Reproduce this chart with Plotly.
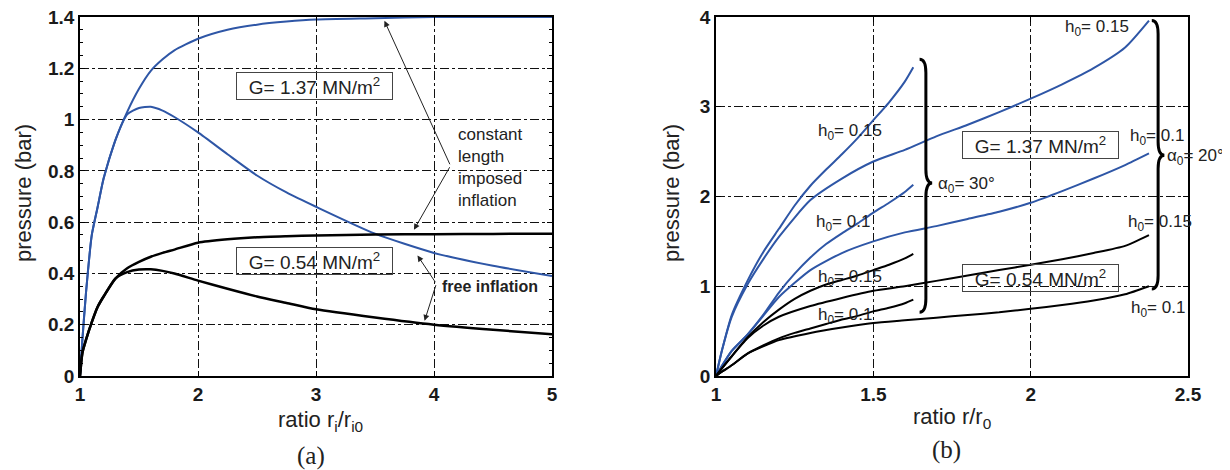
import plotly.graph_objects as go

# ---------------- data: panel (a) ----------------
xa = [1, 1.02, 1.05, 1.1, 1.15, 1.2, 1.3, 1.4, 1.5, 1.6, 1.7, 1.8, 2.0, 2.25, 2.5, 2.75, 3.0, 3.5, 4.0, 4.5, 5.0]
blue_const_a = [0, 0.14, 0.32, 0.55, 0.66, 0.77, 0.92, 1.03, 1.12, 1.19, 1.235, 1.27, 1.315, 1.35, 1.37, 1.382, 1.39, 1.395, 1.4, 1.4, 1.4]
blue_free_a = [0, 0.14, 0.32, 0.55, 0.66, 0.77, 0.92, 1.02, 1.045, 1.05, 1.035, 1.01, 0.95, 0.865, 0.782, 0.716, 0.66, 0.555, 0.48, 0.43, 0.39]
black_const_a = [0, 0.09, 0.14, 0.21, 0.27, 0.31, 0.38, 0.42, 0.445, 0.465, 0.48, 0.493, 0.52, 0.533, 0.541, 0.545, 0.548, 0.552, 0.553, 0.554, 0.555]
black_free_a = [0, 0.09, 0.14, 0.21, 0.27, 0.31, 0.38, 0.405, 0.415, 0.416, 0.41, 0.40, 0.372, 0.34, 0.31, 0.285, 0.26, 0.228, 0.2, 0.18, 0.163]

# ---------------- data: panel (b) ----------------
x30 = [1, 1.02, 1.05, 1.1, 1.15, 1.2, 1.25, 1.3, 1.35, 1.4, 1.45, 1.5, 1.55, 1.6, 1.627]
x20 = [1, 1.02, 1.05, 1.1, 1.15, 1.2, 1.3, 1.4, 1.5, 1.6, 1.7, 1.8, 1.9, 2.0, 2.1, 2.2, 2.3, 2.376]
blue30_h15 = [0, 0.3, 0.68, 1.06, 1.38, 1.64, 1.9, 2.12, 2.3, 2.47, 2.65, 2.85, 3.05, 3.28, 3.44]
blue30_h10 = [0, 0.12, 0.28, 0.46, 0.68, 0.93, 1.14, 1.32, 1.47, 1.59, 1.7, 1.82, 1.93, 2.05, 2.13]
black30_h15 = [0, 0.09, 0.22, 0.43, 0.6, 0.74, 0.86, 0.95, 1.02, 1.07, 1.12, 1.18, 1.24, 1.31, 1.36]
black30_h10 = [0, 0.05, 0.12, 0.25, 0.34, 0.42, 0.48, 0.53, 0.58, 0.63, 0.67, 0.72, 0.76, 0.81, 0.85]
blue20_h15 = [0, 0.3, 0.66, 1.02, 1.3, 1.55, 1.96, 2.2, 2.39, 2.52, 2.67, 2.8, 2.94, 3.09, 3.25, 3.43, 3.66, 3.96]
blue20_h10 = [0, 0.12, 0.28, 0.46, 0.67, 0.88, 1.18, 1.37, 1.5, 1.6, 1.67, 1.75, 1.83, 1.93, 2.06, 2.2, 2.35, 2.48]
black20_h15 = [0, 0.09, 0.22, 0.42, 0.56, 0.66, 0.78, 0.87, 0.95, 1.0, 1.06, 1.12, 1.18, 1.24, 1.3, 1.37, 1.45, 1.57]
black20_h10 = [0, 0.05, 0.12, 0.25, 0.33, 0.4, 0.48, 0.54, 0.59, 0.62, 0.65, 0.68, 0.71, 0.75, 0.79, 0.84, 0.91, 1.0]

BLUE = "#2E56A6"
BLACK = "#000000"
SANS = "Liberation Sans, Arial, sans-serif"
SERIF = "Liberation Serif, Times New Roman, serif"

fig = go.Figure()

def add(x, y, color, width, xa_="x", ya_="y"):
    fig.add_trace(go.Scatter(x=x, y=y, mode="lines", line=dict(color=color, width=width, shape="spline", smoothing=0.6),
                             xaxis=xa_, yaxis=ya_, showlegend=False, hoverinfo="skip"))

add(xa, blue_const_a, BLUE, 2)
add(xa, blue_free_a, BLUE, 2)
add(xa, black_const_a, BLACK, 2.5)
add(xa, black_free_a, BLACK, 2.5)

add(x30, blue30_h15, BLUE, 2, "x2", "y2")
add(x30, blue30_h10, BLUE, 2, "x2", "y2")
add(x20, blue20_h15, BLUE, 2, "x2", "y2")
add(x20, blue20_h10, BLUE, 2, "x2", "y2")
add(x30, black30_h15, BLACK, 2, "x2", "y2")
add(x30, black30_h10, BLACK, 2, "x2", "y2")
add(x20, black20_h15, BLACK, 2, "x2", "y2")
add(x20, black20_h10, BLACK, 2, "x2", "y2")

# page places the figure 8px from the top-left corner
OFF = 8
W, H = 1230 - OFF, 470 - OFF
def px(v):
    return (v - OFF) / W
def py(v):
    return 1 - (v - OFF) / H

axis_common = dict(showline=True, linecolor="black", linewidth=1.5, mirror="ticks", ticks="inside",
                   ticklen=5, tickcolor="black", showgrid=True, gridcolor="#111111", gridwidth=1,
                   griddash="dashdot", zeroline=False, automargin=False, ticklabeloverflow="allow",
                   tickfont=dict(family=SANS, size=19, color="#1a1a1a", weight="bold"))

fig.update_layout(
    width=W, height=H, margin=dict(l=0, r=0, t=0, b=0, autoexpand=False),
    paper_bgcolor="white", plot_bgcolor="white",
    xaxis=dict(domain=[px(80), px(552)], range=[1, 5], dtick=1, anchor="y", **axis_common),
    yaxis=dict(domain=[py(376), py(17)], range=[0, 1.4], dtick=0.2, anchor="x",
               minor=dict(ticks="inside", ticklen=3, dtick=0.05, tickcolor="black", showgrid=False),
               **axis_common),
    xaxis2=dict(domain=[px(716), px(1188)], range=[1, 2.5], dtick=0.5, anchor="y2", **axis_common),
    yaxis2=dict(domain=[py(376), py(17)], range=[0, 4], dtick=1, anchor="x2", **axis_common),
    hovermode=False,
)

ann = []
def text(x, y, t, xref="x", yref="y", size=17, xanchor="center", **kw):
    ann.append(dict(x=x, y=y, xref=xref, yref=yref, text=t, showarrow=False, xanchor=xanchor,
                    yanchor="middle", font=dict(family=SANS, size=size, color="#222222"), **kw))

def boxed(x, y, t, xref, yref):
    ann.append(dict(x=x, y=y, xref=xref, yref=yref, text=t, showarrow=False, xanchor="center",
                    yanchor="middle", font=dict(family=SANS, size=19, color="#222222"),
                    bordercolor="#444444", borderwidth=1, borderpad=1, width=153, height=24))

def arrow(xh, yh, xt, yt, xref="x", yref="y"):
    ann.append(dict(x=xh, y=yh, ax=xt, ay=yt, xref=xref, yref=yref, axref=xref, ayref=yref,
                    text="", showarrow=True, arrowhead=2, arrowsize=1.2, arrowwidth=1, arrowcolor="#222222"))

# panel (a) annotations
boxed(2.99, 1.13, "G= 1.37 MN/m<sup>2</sup>", "x", "y")
boxed(2.99, 0.45, "G= 0.54 MN/m<sup>2</sup>", "x", "y")
text(4.19, 0.815, "constant<br>length<br>imposed<br>inflation", size=17, xanchor="left", align="left")
arrow(3.58, 1.385, 4.14, 0.82)
arrow(3.83, 0.57, 4.14, 0.82)
text(4.05, 0.35, "<b>free inflation</b>", size=16, xanchor="left")
arrow(3.86, 0.47, 4.02, 0.36)
arrow(3.92, 0.215, 4.02, 0.36)

# panel (b) annotations
boxed(2.03, 2.57, "G= 1.37 MN/m<sup>2</sup>", "x2", "y2")
boxed(2.03, 1.095, "G= 0.54 MN/m<sup>2</sup>", "x2", "y2")
h_labels = [(1.427, 2.72, "0.15"), (1.405, 1.70, "0.1"), (1.427, 1.09, "0.15"), (1.41, 0.67, "0.1"),
            (2.21, 3.88, "0.15"), (2.40, 2.66, "0.1"), (2.41, 1.71, "0.15"), (2.406, 0.75, "0.1")]
for hx, hy, hv in h_labels:
    text(hx, hy, "h<sub>0</sub>= " + hv, "x2", "y2", size=17)
text(1.698, 2.13, "α<sub>0</sub>= 30°", "x2", "y2", size=17, xanchor="left")
text(2.428, 2.44, "α<sub>0</sub>= 20°", "x2", "y2", size=17, xanchor="left")

# axis titles & captions
def ptext(cx, cy, t, size=22, family=SANS, angle=0):
    ann.append(dict(x=px(cx), y=py(cy), xref="paper", yref="paper", text=t, showarrow=False,
                    xanchor="center", yanchor="middle", textangle=angle,
                    font=dict(family=family, size=size, color="#222222")))

ptext(24, 193, "pressure (bar)", angle=-90)
ptext(672, 193, "pressure (bar)", angle=-90)
ptext(320, 421, "ratio r<sub>i</sub>/r<sub>i0</sub>")
ptext(952, 418, "ratio r/r<sub>0</sub>")
ptext(311, 456, "(a)", size=25, family=SERIF)
ptext(946, 450, "(b)", size=25, family=SERIF)
fig.update_layout(annotations=ann)

# braces
def brace(x0, ytop, ybot, ymid, w, d):
    return (f"M {x0-w},{ytop} Q {x0},{ytop} {x0},{ytop-d} L {x0},{ymid+d} "
            f"Q {x0},{ymid} {x0+w},{ymid} Q {x0},{ymid} {x0},{ymid-d} L {x0},{ybot+d} "
            f"Q {x0},{ybot} {x0-w},{ybot}")

fig.add_shape(type="path", path=brace(1.667, 3.53, 0.71, 2.15, 0.02, 0.15), xref="x2", yref="y2",
              line=dict(color="black", width=3))
fig.add_shape(type="path", path=brace(2.405, 3.96, 0.97, 2.46, 0.02, 0.15), xref="x2", yref="y2",
              line=dict(color="black", width=3))

fig.write_html("out.html")
